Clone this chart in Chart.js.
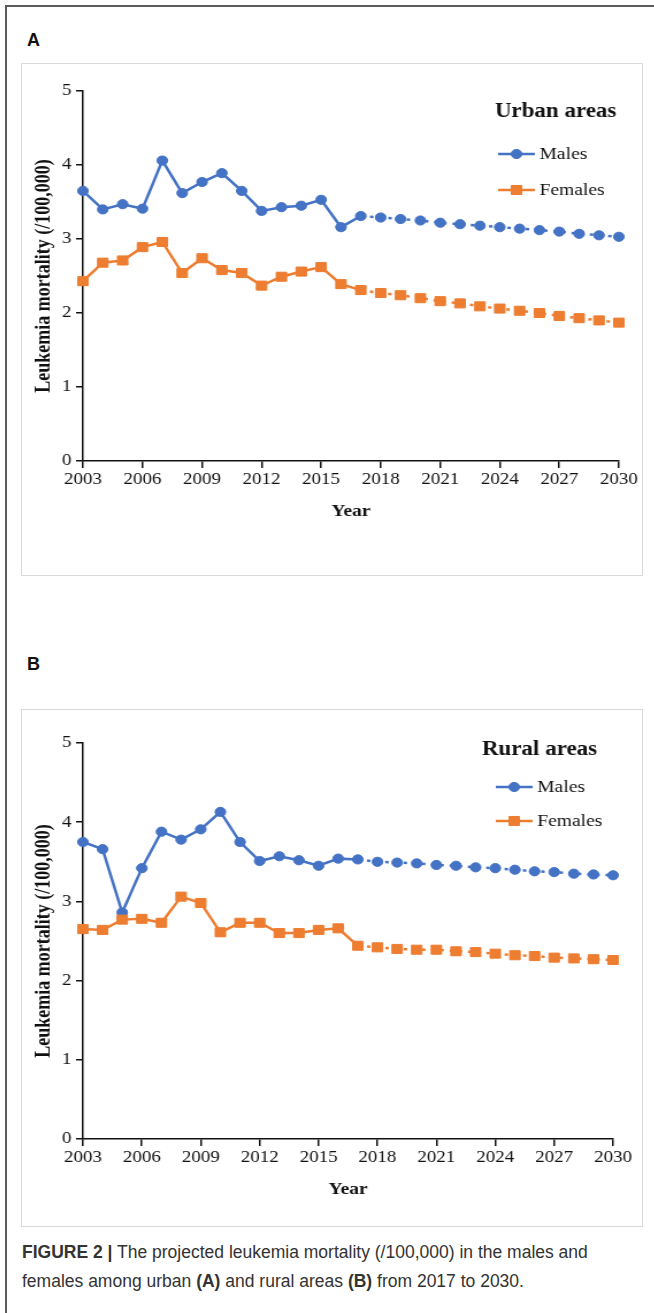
<!DOCTYPE html>
<html>
<head>
<meta charset="utf-8">
<script src="https://cdn.jsdelivr.net/npm/chart.js@4/dist/chart.umd.min.js"></script>
<style>
  body { margin:0; background:#fff; width:654px; height:1313px; position:relative; overflow:hidden;
         font-family:'Liberation Sans', Arial, sans-serif; }
  .frame { position:absolute; left:5px; top:5px; width:700px; height:1400px;
           border-left:2px solid #5b5b5b; border-top:2px solid #5b5b5b; }
  .tag { position:absolute; left:27px; font-weight:bold; font-size:18px; color:#111; }
  .box { position:absolute; left:21px; width:620px; border:1.5px solid #d9d9d9; }
  canvas { position:absolute; left:22px; }
  .cap { position:absolute; left:22px; top:1238px; width:625px; font-size:17.5px; line-height:29px; color:#333; }
</style>
</head>
<body>
<div class="frame"></div>

<div class="tag" style="top:30px">A</div>
<div class="box" style="top:63px;height:511px"></div>
<canvas id="urban" width="540" height="461" style="top:62px;width:621px;height:461px"></canvas>

<div class="tag" style="top:654px">B</div>
<div class="box" style="top:709px;height:516px"></div>
<canvas id="rural" width="540" height="490" style="top:711px;width:621px;height:490px"></canvas>

<div class="cap"><b>FIGURE 2 |</b> The projected leukemia mortality (/100,000) in the males and females among urban <b>(A)</b> and rural areas <b>(B)</b> from 2017 to 2030.</div>

<script>
// years on the x axis, projections start in 2017
const years = [2003,2004,2005,2006,2007,2008,2009,2010,2011,2012,2013,2014,2015,2016,
               2017,2018,2019,2020,2021,2022,2023,2024,2025,2026,2027,2028,2029,2030];
const projectionStart = 2017;

const urbanMales   = [3.65,3.40,3.47,3.41,4.06,3.62,3.77,3.89,3.65,3.38,3.43,3.45,3.53,3.16,
                      3.31,3.29,3.27,3.25,3.22,3.20,3.18,3.16,3.14,3.12,3.10,3.07,3.05,3.03];
const urbanFemales = [2.43,2.68,2.71,2.89,2.96,2.54,2.74,2.58,2.54,2.37,2.49,2.56,2.62,2.39,
                      2.31,2.27,2.24,2.20,2.16,2.13,2.09,2.06,2.03,2.00,1.96,1.93,1.90,1.87];
const ruralMales   = [3.75,3.66,2.86,3.42,3.88,3.78,3.91,4.13,3.75,3.51,3.57,3.52,3.45,3.54,
                      3.53,3.50,3.49,3.48,3.46,3.45,3.43,3.42,3.40,3.38,3.37,3.35,3.34,3.33];
const ruralFemales = [2.65,2.64,2.77,2.78,2.73,3.06,2.98,2.61,2.73,2.73,2.60,2.60,2.64,2.66,
                      2.44,2.42,2.40,2.39,2.39,2.37,2.36,2.34,2.32,2.31,2.29,2.28,2.27,2.26];

const xTicks = [2003,2006,2009,2012,2015,2018,2021,2024,2027,2030];
const yTicks = [0,1,2,3,4,5];

const BLUE = '#4472c4', ORANGE = '#ed7d31', INK = '#111';
const serif = "'Liberation Serif','Times New Roman',serif";

const toPts = vals => vals.map((v, i) => ({ x: years[i], y: v }));

// small legend in the top right corner, line + marker like the original
const cornerLegend = {
  id: 'cornerLegend',
  afterDraw(chart, args, o) {
    const ctx = chart.ctx;
    ctx.save();
    ctx.fillStyle = INK;
    ctx.textBaseline = 'middle';
    ctx.textAlign = 'center';
    ctx.font = `bold 20px ${serif}`;
    ctx.fillText(o.title, o.titleX, o.titleY);
    ctx.textAlign = 'left';
    chart.data.datasets.forEach((ds, i) => {
      const y = o.rows[i];
      ctx.strokeStyle = ds.borderColor;
      ctx.fillStyle = ds.borderColor;
      ctx.lineWidth = 2.5;
      ctx.setLineDash([]);
      ctx.beginPath(); ctx.moveTo(o.x0, y); ctx.lineTo(o.x1, y); ctx.stroke();
      ctx.lineWidth = 1;
      Chart.helpers.drawPoint(ctx, { pointStyle: ds.pointStyle, radius: ds.pointRadius, borderWidth: 1 },
                              (o.x0 + o.x1) / 2, y);
      ctx.fillStyle = INK;
      ctx.font = `17px ${serif}`;
      ctx.fillText(ds.label, o.x1 + 4, y + 1);
    });
    ctx.restore();
  }
};

function series(label, vals, color, style, radius, order) {
  return {
    label, data: toPts(vals), order, clip: false,
    borderColor: color, backgroundColor: color, borderWidth: 2.5,
    pointStyle: style, pointRadius: radius, pointHoverRadius: radius,
    pointBackgroundColor: color, pointBorderColor: color, pointBorderWidth: 1,
    segment: { borderDash: c => years[c.p0DataIndex] >= projectionStart ? [3, 5] : undefined }
  };
}

function makeChart(id, males, females, legend, padTop, padRight) {
  const tickFont = { family: serif, size: 16.5 };
  new Chart(document.getElementById(id), {
    type: 'line',
    data: { datasets: [
      series('Males', males, BLUE, 'circle', 4.6, 1),
      series('Females', females, ORANGE, 'rect', 6.4, 0)
    ]},
    options: {
      responsive: false, animation: false, devicePixelRatio: 1,
      layout: { padding: { top: padTop, right: padRight, left: 0, bottom: 0 } },
      plugins: { legend: { display: false }, tooltip: { enabled: false }, cornerLegend: legend },
      scales: {
        x: {
          type: 'linear', min: 2003, max: 2030,
          afterBuildTicks: s => { s.ticks = xTicks.map(v => ({ value: v })); },
          ticks: { color: INK, font: tickFont, padding: 2, maxRotation: 0, autoSkip: false, callback: v => String(v) },
          grid: { drawOnChartArea: false, tickLength: 7, color: INK, lineWidth: 1.5 },
          border: { display: true, color: INK, width: 1.5 },
          title: { display: true, text: 'Year', color: INK, font: { family: serif, size: 17, weight: 'bold' },
                   padding: { top: 0, bottom: 1 } },
          afterFit: s => { s.height = 62; }
        },
        y: {
          min: 0, max: 5,
          afterBuildTicks: s => { s.ticks = yTicks.map(v => ({ value: v })); },
          ticks: { color: INK, font: tickFont, padding: 4 },
          grid: { drawOnChartArea: false, tickLength: 6, color: INK, lineWidth: 1.5 },
          border: { display: true, color: INK, width: 1.5 },
          title: { display: true, text: 'Leukemia mortality (/100,000)', color: INK,
                   font: { family: serif, size: 18, weight: 'bold' }, padding: { top: 9, bottom: 0 } },
          afterFit: s => { s.width = 53; }
        }
      }
    },
    plugins: [cornerLegend]
  });
}

makeChart('urban', urbanMales, urbanFemales,
  { title: 'Urban areas', titleX: 464, titleY: 50, x0: 414, x1: 446, rows: [92, 128] }, 29, 21);
makeChart('rural', ruralMales, ruralFemales,
  { title: 'Rural areas', titleX: 450, titleY: 39, x0: 412, x1: 444, rows: [76, 110] }, 32, 26);
</script>
</body>
</html>
